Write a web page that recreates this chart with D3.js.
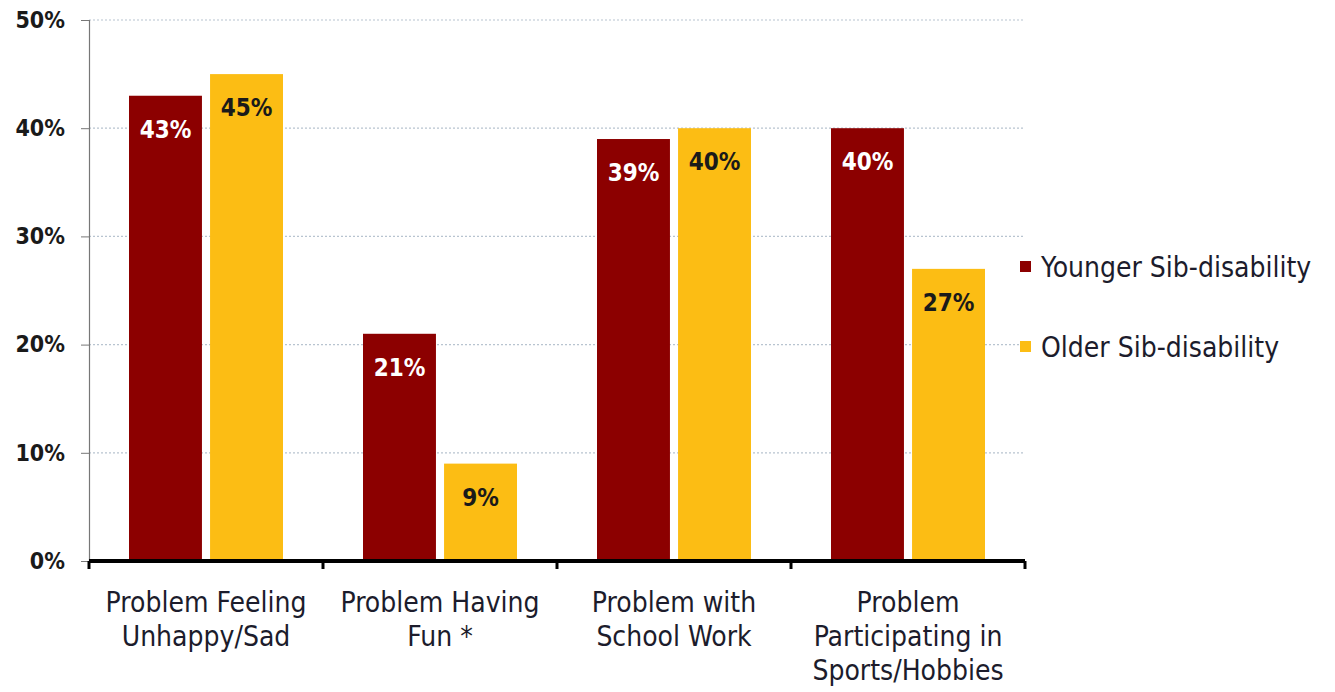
<!DOCTYPE html>
<html>
<head>
<meta charset="utf-8">
<script src="https://cdn.jsdelivr.net/npm/d3@7"></script>
<style>
  html, body { margin: 0; padding: 0; background: #fff; }
  svg text { font-family: "DejaVu Sans Condensed", "DejaVu Sans", sans-serif; }
</style>
</head>
<body>
<svg id="chart" width="1335" height="692"></svg>
<script>
// Survey categories (multi-line labels) and the two sibling groups
const categories = [
  ["Problem Feeling", "Unhappy/Sad"],
  ["Problem Having", "Fun *"],
  ["Problem with", "School Work"],
  ["Problem", "Participating in", "Sports/Hobbies"]
];
const seriesNames = ["Younger Sib-disability", "Older Sib-disability"];
const younger = [43, 21, 39, 40];
const older = [45, 9, 40, 27];
const yTicks = [0, 10, 20, 30, 40, 50];

const colors = ["#8c0000", "#fcbd14"];
const labelColors = ["#ffffff", "#1a1a1a"];

const svg = d3.select("#chart");
const margin = { left: 89, right: 310, top: 20, bottom: 131 };
const width = 1335 - margin.left - margin.right;
const height = 692 - margin.top - margin.bottom;

const g = svg.append("g").attr("transform", `translate(${margin.left},${margin.top})`);

const x0 = d3.scaleBand()
  .domain(d3.range(categories.length))
  .range([0, width])
  .paddingInner(0)
  .paddingOuter(0);

const x1 = d3.scaleBand()
  .domain([0, 1])
  .range([40, x0.bandwidth() - 40])
  .paddingInner(0.1);

const y = d3.scaleLinear().domain([0, 50]).range([height, 0]);

// Dotted gridlines
g.append("g")
  .selectAll("line")
  .data(yTicks.filter(d => d > 0))
  .join("line")
  .attr("x1", 0).attr("x2", width)
  .attr("y1", d => y(d)).attr("y2", d => y(d))
  .attr("stroke", "#b8c4d0")
  .attr("stroke-width", 1.2)
  .attr("stroke-dasharray", "2,2");

// Y axis
const yAxis = g.append("g")
  .call(d3.axisLeft(y).tickValues(yTicks).tickFormat(d => d + "%").tickSize(8).tickPadding(16));
yAxis.select(".domain").attr("stroke", "#777").attr("stroke-width", 1.2);
yAxis.selectAll(".tick line").attr("stroke", "#777");
yAxis.selectAll("text")
  .attr("font-size", 23)
  .attr("font-weight", "bold")
  .attr("fill", "#1a1a1a");

// Bars
const seriesData = [younger, older];
const groups = g.append("g")
  .selectAll("g")
  .data(categories.map((c, i) => i))
  .join("g")
  .attr("transform", i => `translate(${x0(i)},0)`);

groups.selectAll("rect")
  .data(i => seriesData.map((s, k) => ({ k, v: s[i] })))
  .join("rect")
  .attr("x", d => x1(d.k))
  .attr("width", x1.bandwidth())
  .attr("y", d => y(d.v))
  .attr("height", d => height - y(d.v))
  .attr("fill", d => colors[d.k]);

groups.selectAll("text.val")
  .data(i => seriesData.map((s, k) => ({ k, v: s[i] })))
  .join("text")
  .attr("class", "val")
  .attr("x", d => x1(d.k) + x1.bandwidth() / 2)
  .attr("y", d => y(d.v) + 42)
  .attr("text-anchor", "middle")
  .attr("font-size", 24)
  .attr("font-weight", "bold")
  .attr("fill", d => labelColors[d.k])
  .text(d => d.v + "%");

// X axis: thick baseline with boundary ticks
const xAxisG = g.append("g").attr("transform", `translate(0,${height})`);
xAxisG.append("line")
  .attr("x1", 0).attr("x2", width)
  .attr("y1", 0).attr("y2", 0)
  .attr("stroke", "#000").attr("stroke-width", 4);
xAxisG.selectAll("line.tk")
  .data(d3.range(categories.length + 1))
  .join("line")
  .attr("class", "tk")
  .attr("x1", i => i === categories.length ? width : x0(i))
  .attr("x2", i => i === categories.length ? width : x0(i))
  .attr("y1", 0).attr("y2", 8)
  .attr("stroke", "#000").attr("stroke-width", 3);

xAxisG.selectAll("text.cat")
  .data(categories)
  .join("text")
  .attr("class", "cat")
  .attr("text-anchor", "middle")
  .attr("font-size", 28)
  .attr("fill", "#1c1c2c")
  .attr("transform", (d, i) => `translate(${x0(i) + x0.bandwidth() / 2},0)`)
  .selectAll("tspan")
  .data(d => d)
  .join("tspan")
  .attr("x", 0)
  .attr("y", (d, j) => 51 + j * 34)
  .text(d => d);

// Legend
const legend = svg.append("g").attr("transform", "translate(1020,0)");
const legendY = [267, 347];
seriesNames.forEach((name, k) => {
  legend.append("rect")
    .attr("x", 0).attr("y", legendY[k] - 6)
    .attr("width", 11).attr("height", 11)
    .attr("fill", colors[k]);
  legend.append("text")
    .attr("x", 21).attr("y", legendY[k] + 10)
    .attr("font-size", 28)
    .attr("fill", "#1c1c2c")
    .text(name);
});
</script>
</body>
</html>
